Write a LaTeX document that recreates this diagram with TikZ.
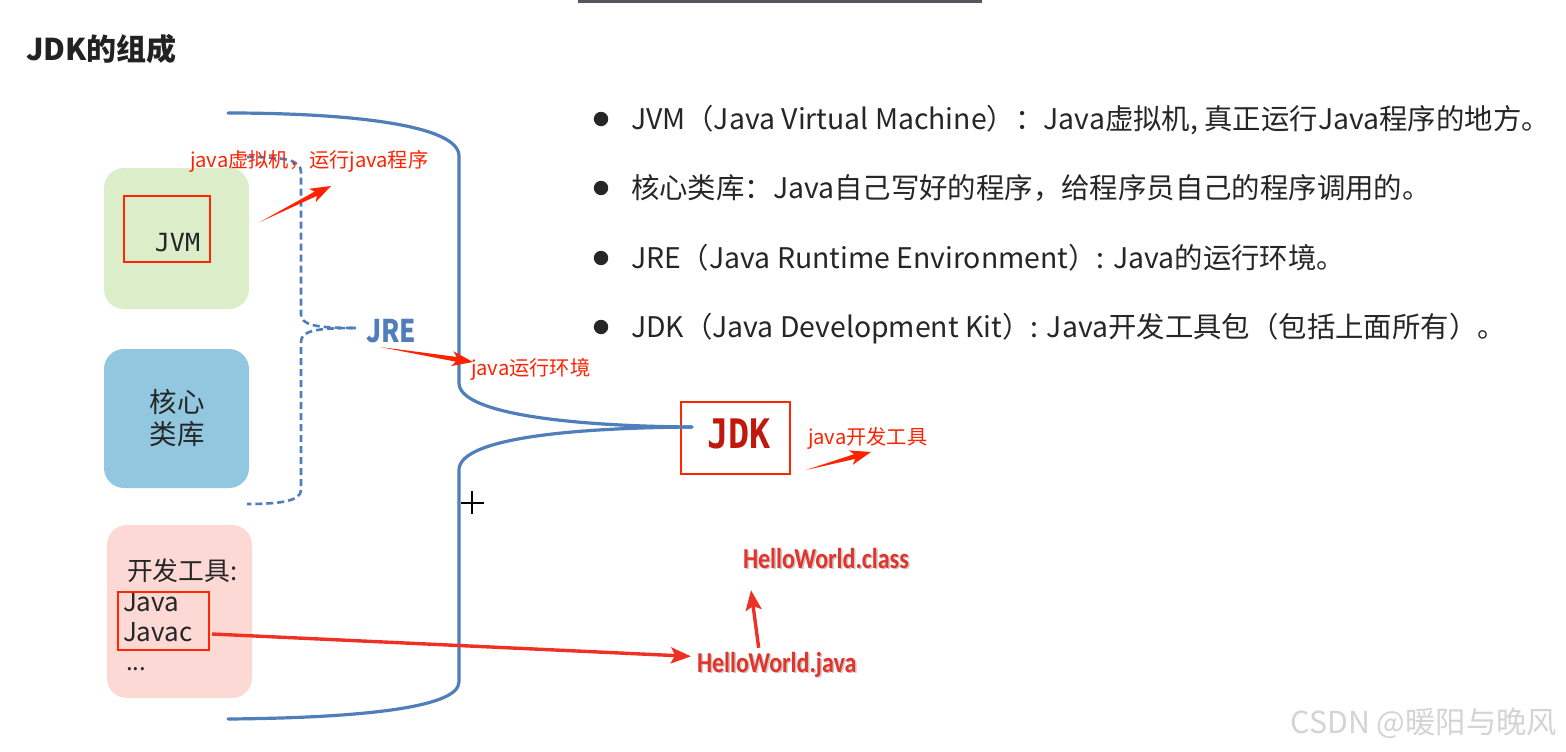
\documentclass[tikz,border=0pt]{standalone}
\usepackage{fontspec}
\setmainfont{Noto Sans CJK SC}
\newfontfamily\monofont{DejaVu Sans Mono}
\newfontfamily\carlito{Carlito}
\usetikzlibrary{arrows.meta,calc}
\definecolor{lineblue}{HTML}{4F7EBB}
\definecolor{bargray}{HTML}{54575E}
\definecolor{titleblack}{HTML}{222222}
\definecolor{textdark}{HTML}{262626}
\definecolor{greenfill}{HTML}{DBEEC9}
\definecolor{bluefill}{HTML}{92C8DF}
\definecolor{pinkfill}{HTML}{FDD9D5}
\definecolor{framered}{HTML}{FF2600}
\definecolor{labelred}{HTML}{FF2200}
\definecolor{arrowred}{HTML}{EE3124}
\definecolor{jdkred}{HTML}{C0180C}
\definecolor{hwred}{HTML}{E5332A}
\definecolor{shadowgray}{HTML}{C8C8C8}
\definecolor{wmgray}{HTML}{D4D4D4}
\newcommand\fs[1]{\fontsize{#1}{#1}\selectfont}
\newcommand\tall[1]{\scalebox{1}[1.2]{#1}}
\newcommand\taperarrow[2]{%
  \path[fill=labelred] let \p1=($(#2)-(#1)$), \n1={atan2(\y1,\x1)}, \n2={veclen(\x1,\y1)} in
    [shift={(#1)}, rotate=\n1]
    (0pt,0pt) -- (\n2-17pt,2.4pt) -- (\n2-21pt,7.5pt) -- (\n2,0pt) -- (\n2-21pt,-7.5pt) -- (\n2-17pt,-2.4pt) -- cycle;}
\tikzset{
  groupbox/.style={rounded corners=20pt, draw=none},
  redframe/.style={draw=framered, line width=2.8pt},
  bracesolid/.style={draw=lineblue, line width=3.2pt, line cap=round},
  bracedash/.style={draw=lineblue, line width=2.6pt, dash pattern=on 7pt off 4pt},
  redlabel/.style={anchor=base west, text=labelred, font=\fs{20.2}},
  bullettext/.style={anchor=base west, text=textdark, font=\fs{28.4}},
  hwtext/.style={anchor=base west, text=hwred, font=\carlito\bfseries\fs{24}},
  hwshadow/.style={anchor=base west, text=shadowgray, font=\carlito\bfseries\fs{24}},
  flowarrow/.style={draw=arrowred, line width=3.4pt, -{Stealth[length=20pt,width=16pt,inset=4pt]}},
}
\begin{document}
\begin{tikzpicture}[x=1pt,y=-1pt, every node/.style={inner sep=0pt, outer sep=0pt}]
\useasboundingbox (0,0) rectangle (1566,752);
\fill[white] (0,0) rectangle (1566,752);
% top bar
\fill[bargray] (578,0) rectangle (982,3.5);
% title
\node[anchor=base west, text=titleblack, font=\bfseries\fs{30}] (title) at (26,61) {JDK的组成};

% component boxes
\node[groupbox, fill=greenfill, minimum width=145, minimum height=141] (jvmgroup) at (176.5,238.5) {};
\node[redframe, minimum width=86, minimum height=66] (jvmframe) at (167,229) {};
\node[anchor=base, text=textdark, font=\monofont\fs{25}] (jvm) at (177.5,251) {JVM};

\node[groupbox, fill=bluefill, minimum width=145, minimum height=139] (corelib) at (176.5,418.5) {};
\node[anchor=base, text=textdark, font=\fs{27.5}] (core1) at (177,412) {核心};
\node[anchor=base, text=textdark, font=\fs{27.5}] (core2) at (177,444) {类库};

\node[groupbox, fill=pinkfill, minimum width=145, minimum height=173] (tools) at (179.5,611.5) {};
\node[anchor=base west, text=textdark, font=\fs{25.8}] (tools1) at (127,580.5) {开发工具:};
\node[anchor=base west, text=textdark, font=\fs{26}] (tools2) at (123,611) {Java};
\node[anchor=base west, text=textdark, font=\fs{26}] (tools3) at (123,641) {Javac};
\node[anchor=base west, text=textdark, font=\fs{24}] (tools4) at (126,670) {...};
\node[redframe, minimum width=91, minimum height=58] (javaframe) at (163.5,621) {};

% dashed JRE brace
\coordinate (jretop) at (247,157);
\coordinate (jretip) at (356,328);
\coordinate (jrebot) at (247,504);
\draw[bracedash] (jretop) .. controls (285,157) and (301,160) .. (301,172) -- (301,314)
  .. controls (301,325) and (315,328) .. (jretip);
\draw[bracedash] (jretip) .. controls (315,328) and (301,331) .. (301,342) -- (301,490)
  .. controls (301,501) and (280,504) .. (jrebot);
\node[anchor=base west, text=lineblue, font=\bfseries\fs{26}] (jre) at (366,342.5) {\tall{JRE}};

% solid JDK brace
\node[redframe, minimum width=109, minimum height=72] (jdkframe) at (735.5,438) {};
\node[anchor=base, text=jdkred, font=\monofont\bfseries\fs{37}] (jdk) at (739,448) {\scalebox{0.95}[1.1]{JDK}};
\coordinate (jdktop) at (228,113);
\coordinate (jdkbot) at (228,719);
\draw[bracesolid] (jdktop) .. controls (350,113) and (459,125) .. (459,156) -- (459,383)
  .. controls (459,412) and (560,426) .. (692,427);
\draw[bracesolid] (692,427) .. controls (560,428) and (459,440) .. (459,470) -- (459,682)
  .. controls (459,709) and (350,718) .. (jdkbot);

% red annotation labels and arrows
\node[redlabel] (lab1) at (190,167.4) {java虚拟机，运行java程序};
\node[redlabel] (lab2) at (471,375.4) {java运行环境};
\node[redlabel] (lab3) at (808,444.4) {java开发工具};
\coordinate (a1s) at (260,222);
\coordinate (a1e) at (331,186);
\coordinate (a2s) at (380,347);
\coordinate (a2e) at (473,362);
\coordinate (a3s) at (806,470);
\coordinate (a3e) at (871,452);
\taperarrow{a1s}{a1e}
\taperarrow{a2s}{a2e}
\taperarrow{a3s}{a3e}

% bullet list
\foreach \yy/\txt [count=\i] in {
  119/{JVM（Java Virtual Machine）：Java虚拟机, 真正运行Java程序的地方。},
  188/{核心类库：Java自己写好的程序，给程序员自己的程序调用的。},
  258/{JRE（Java Runtime Environment）: Java的运行环境。},
  327/{JDK（Java Development Kit）: Java开发工具包（包括上面所有）。}}{
  \fill[textdark] (601,\yy) circle[radius=7.2pt];
  \node[bullettext] (item\i) at (631,\yy+10.5) {\txt};
}

% HelloWorld files
\node[hwshadow] (hwcs) at (744.5,569.5) {\tall{HelloWorld.class}};
\node[hwtext] (hwc) at (743,568) {\tall{HelloWorld.class}};
\node[hwshadow] (hwjs) at (698.5,673.5) {\tall{HelloWorld.java}};
\node[hwtext] (hwj) at (697,672) {\tall{HelloWorld.java}};
\draw[flowarrow] ($(javaframe.east)+(3,13)$) -- ($(hwj.west)+(-6,-8)$);
\draw[flowarrow] ($(hwj.north)+(-18,-4)$) -- ($(hwc.south west)+(8,22)$);

% cursor cross
\coordinate (cursor) at (472,503);
\draw[black, line width=1.4pt] ($(cursor)+(-11,0)$) -- ($(cursor)+(12,0)$);
\draw[black, line width=1.4pt] ($(cursor)+(0,-12)$) -- ($(cursor)+(0,11)$);

% watermark
\node[anchor=base east, text=wmgray, font=\fs{30.3}] (wm) at (1557,733) {CSDN @暖阳与晚风};
\end{tikzpicture}
\end{document}
